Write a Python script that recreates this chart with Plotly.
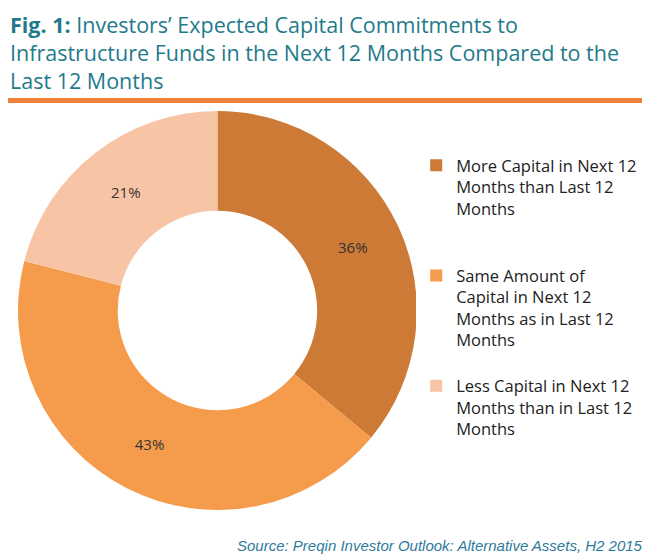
import plotly.graph_objects as go

# data
labels = [
    "More Capital in Next 12<br>Months than Last 12<br>Months<br> <br> ",
    "Same Amount of<br>Capital in Next 12<br>Months as in Last 12<br>Months<br> ",
    "Less Capital in Next 12<br>Months than in Last 12<br>Months",
]
shares = [36, 43, 21]
colors = ["#CC7A36", "#F59B4C", "#F8C4A6"]

title = ("<b>Fig. 1:</b> Investors’ Expected Capital Commitments to<br>"
         "Infrastructure Funds in the Next 12 Months Compared to the<br>"
         "Last 12 Months")
source = "Source: Preqin Investor Outlook: Alternative Assets, H2 2015"

TEAL = "#1F7A8C"
FONT = "Open Sans, Lato, sans-serif"

fig = go.Figure(
    go.Pie(
        labels=labels,
        values=shares,
        hole=0.5,
        sort=False,
        direction="clockwise",
        rotation=0,
        marker=dict(colors=colors, line=dict(color="white", width=0)),
        texttemplate="%{value}%",
        textposition="inside",
        insidetextorientation="horizontal",
        textfont=dict(family=FONT, size=15, color="#333333"),
        domain=dict(x=[0.0154, 0.629], y=[0.1036, 0.816]),
    )
)

fig.update_layout(
    width=650,
    height=560,
    margin=dict(l=0, r=0, t=0, b=0),
    paper_bgcolor="white",
    font=dict(family=FONT, size=16, color="#222222"),
    legend=dict(
        x=0.628,
        y=0.75,
        xanchor="left",
        yanchor="top",
        valign="top",
        font=dict(family=FONT, size=16.5, color="#222222"),
        itemwidth=30,
    ),
    annotations=[
        dict(text=title, xref="paper", yref="paper", x=0.0, y=1.0,
             xanchor="left", yanchor="top", align="left", showarrow=False,
             font=dict(family=FONT, size=21.5, color=TEAL)),
        dict(text="<i>" + source + "</i>", xref="paper", yref="paper",
             x=0.98, y=0.041, xanchor="right", yanchor="middle", showarrow=False,
             font=dict(family="Arial, Liberation Sans, sans-serif", size=15, color="#2E7A9C")),
    ],
    shapes=[
        dict(type="line", xref="paper", yref="paper",
             x0=0.0, x1=0.985, y0=0.835, y1=0.835,
             line=dict(color="#F07F3C", width=5)),
    ],
)

fig.write_html("out.html")
